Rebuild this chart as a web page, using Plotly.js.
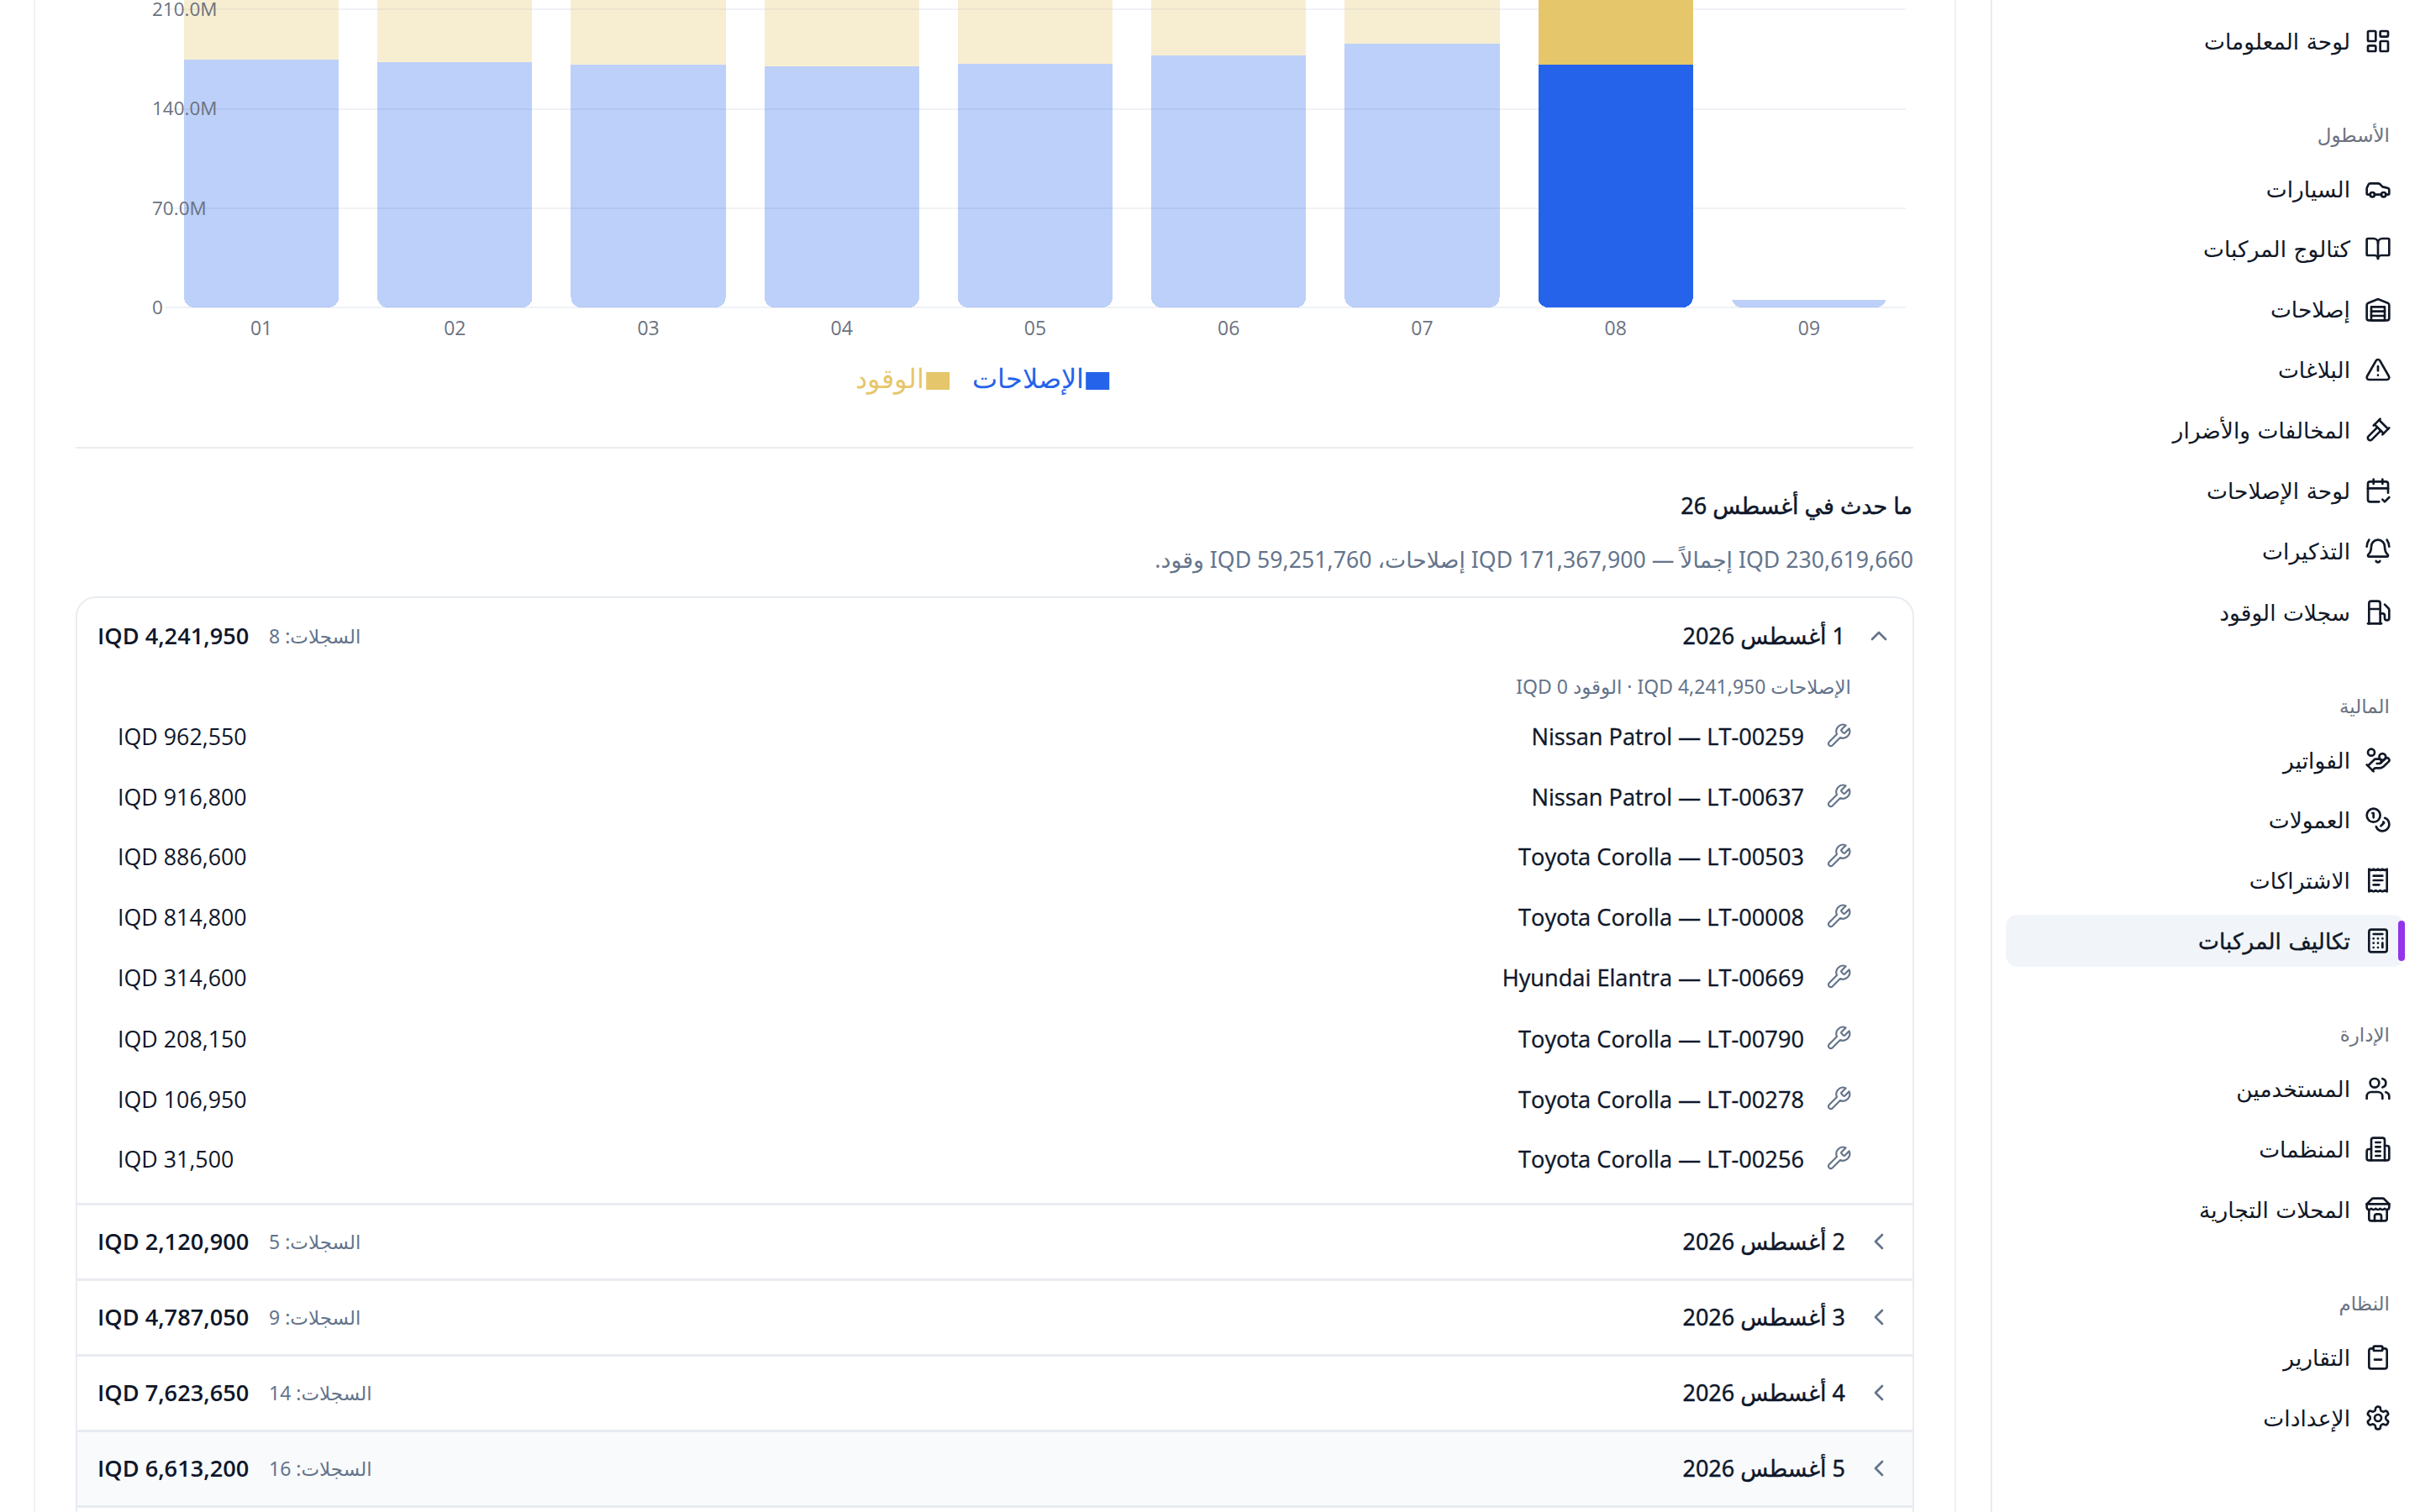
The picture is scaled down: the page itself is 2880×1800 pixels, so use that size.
<!DOCTYPE html>
<html lang="ar">
<head>
<meta charset="utf-8">
<script src="https://cdn.plot.ly/plotly-3.0.1.min.js"></script>
<style>
html,body{margin:0;padding:0;width:2880px;height:1800px;overflow:hidden;background:#fff;font-family:"Open Sans","Noto Sans","DejaVu Sans",sans-serif;color:#0f172a}
#page{position:absolute;left:0;top:0;width:2880px;height:1800px;overflow:hidden}
#chart{position:absolute;left:0;top:-60px;width:2880px;height:640px}
.t{position:absolute;white-space:nowrap;transform:translateY(-50%);line-height:1.2}
.r{position:absolute}
svg.i{position:absolute;fill:none;stroke-linecap:round;stroke-linejoin:round}
</style>
</head>
<body>
<div id="page"><div id="chart"></div></div>
<script>
// ---- chart data (IQD, month by month) ----
const months = ["01","02","03","04","05","06","07","08","09"];
const repairs = [174700000,173000000,171300000,170000000,171500000,177700000,186000000,171367900,5300000];
const fuel = [62000000,60000000,61000000,59000000,60000000,58000000,57000000,59251760,0];
const barOpacity = [0.3,0.3,0.3,0.3,0.3,0.3,0.3,1,0.3];
const yTicks = [0,70000000,140000000,210000000];
const yTickLabels = ["0","70.0M","140.0M","210.0M"];
const seriesNames = ["الإصلاحات","الوقود"];

// ---- page text ----
const heading = "ما حدث في أغسطس 26";
const summary = "IQD 230,619,660 إجمالاً — IQD 171,367,900 إصلاحات، IQD 59,251,760 وقود.";
const dayBreakdown = "الإصلاحات IQD 4,241,950 · الوقود IQD 0";
const entryNames = ["Nissan Patrol — LT-00259","Nissan Patrol — LT-00637","Toyota Corolla — LT-00503","Toyota Corolla — LT-00008","Hyundai Elantra — LT-00669","Toyota Corolla — LT-00790","Toyota Corolla — LT-00278","Toyota Corolla — LT-00256"];
const entryCosts = ["IQD 962,550","IQD 916,800","IQD 886,600","IQD 814,800","IQD 314,600","IQD 208,150","IQD 106,950","IQD 31,500"];
const dayDates = ["1 أغسطس 2026","2 أغسطس 2026","3 أغسطس 2026","4 أغسطس 2026","5 أغسطس 2026"];
const dayTotals = ["IQD 4,241,950","IQD 2,120,900","IQD 4,787,050","IQD 7,623,650","IQD 6,613,200"];
const dayCounts = ["السجلات: 8","السجلات: 5","السجلات: 9","السجلات: 14","السجلات: 16"];
const navItems = [
 ["i","لوحة المعلومات","dash",49],["s","الأسطول","",162],["i","السيارات","car",225],["i","كتالوج المركبات","book",296],
 ["i","إصلاحات","ware",368],["i","البلاغات","warn",440],["i","المخالفات والأضرار","gavel",512],["i","لوحة الإصلاحات","cal",584],
 ["i","التذكيرات","bell",656],["i","سجلات الوقود","fuel",729],["s","المالية","",842],["i","الفواتير","hand",905],
 ["i","العمولات","coins",976],["i","الاشتراكات","rcpt",1048],["a","تكاليف المركبات","calc",1120],["s","الإدارة","",1233],
 ["i","المستخدمين","users",1296],["i","المنظمات","bldg",1368],["i","المحلات التجارية","store",1440],["s","النظام","",1553],
 ["i","التقارير","clip",1616],["i","الإعدادات","gear",1688]];

const P = (d)=>`<path d="${d}"/>`;
const C = (x,y,r)=>`<circle cx="${x}" cy="${y}" r="${r}"/>`;
const R = (x,y,w,h,r)=>`<rect x="${x}" y="${y}" width="${w}" height="${h}" rx="${r}"/>`;
const icons = {
 dash:R(3,3,7,9,1)+R(14,3,7,5,1)+R(14,12,7,9,1)+R(3,16,7,5,1),
 car:P("M19 17h2c.6 0 1-.4 1-1v-3c0-.9-.7-1.7-1.5-1.9C18.7 10.6 16 10 16 10s-1.3-1.4-2.2-2.3c-.5-.4-1.1-.7-1.8-.7H5c-.6 0-1.1.4-1.4.9l-1.4 2.9A3.7 3.7 0 0 0 2 12v4c0 .6.4 1 1 1h2")+C(7,17,2)+P("M9 17h6")+C(17,17,2),
 book:P("M12 7v14")+P("M3 18a1 1 0 0 1-1-1V4a1 1 0 0 1 1-1h5a4 4 0 0 1 4 4 4 4 0 0 1 4-4h5a1 1 0 0 1 1 1v13a1 1 0 0 1-1 1h-6a3 3 0 0 0-3 3 3 3 0 0 0-3-3z"),
 ware:P("M22 8.35V20a2 2 0 0 1-2 2H4a2 2 0 0 1-2-2V8.35A2 2 0 0 1 3.26 6.5l8-3.2a2 2 0 0 1 1.48 0l8 3.2A2 2 0 0 1 22 8.35Z")+P("M6 18h12")+P("M6 14h12")+R(6,10,12,12,0),
 warn:P("m21.73 18-8-14a2 2 0 0 0-3.48 0l-8 14A2 2 0 0 0 4 21h16a2 2 0 0 0 1.73-3")+P("M12 9v4")+P("M12 17h.01"),
 gavel:P("m14.5 12.5-8 8a2.119 2.119 0 1 1-3-3l8-8")+P("m16 16 6-6")+P("m8 8 6-6")+P("m9 7 8 8")+P("m21 11-8-8"),
 cal:P("M8 2v4")+P("M16 2v4")+P("M21 14V6a2 2 0 0 0-2-2H5a2 2 0 0 0-2 2v14a2 2 0 0 0 2 2h8")+P("M3 10h18")+P("m16 20 2 2 4-4"),
 bell:P("M10.268 21a2 2 0 0 0 3.464 0")+P("M22 8c0-2.3-.8-4.3-2-6")+P("M3.262 15.326A1 1 0 0 0 4 17h16a1 1 0 0 0 .74-1.673C19.41 13.956 18 12.499 18 8A6 6 0 0 0 6 8c0 4.499-1.411 5.956-2.738 7.326")+P("M4 2C2.8 3.7 2 5.7 2 8"),
 fuel:P("M3 22h12")+P("M4 9h10")+P("M14 22V4a2 2 0 0 0-2-2H6a2 2 0 0 0-2 2v18")+P("M14 13h2a2 2 0 0 1 2 2v2a2 2 0 0 0 2 2a2 2 0 0 0 2-2V9.83a2 2 0 0 0-.59-1.42L18 5"),
 hand:P("M11 15h2a2 2 0 1 0 0-4h-3c-.6 0-1.1.2-1.4.6L3 17")+P("m7 21 1.6-1.4c.3-.4.8-.6 1.4-.6h4c1.1 0 2.1-.4 2.8-1.2l4.6-4.4a2 2 0 0 0-2.75-2.91l-4.2 3.9")+P("m2 16 6 6")+C(16,9,2.9)+C(6,5,3),
 coins:C(8,8,6)+P("M18.09 10.37A6 6 0 1 1 10.34 18")+P("M7 6h1v4")+P("m16.71 13.88.7.71-2.82 2.82"),
 rcpt:P("M4 2v20l2-1 2 1 2-1 2 1 2-1 2 1 2-1 2 1V2l-2 1-2-1-2 1-2-1-2 1-2-1-2 1Z")+P("M16 8H8")+P("M16 12H8")+P("M13 16H8"),
 calc:R(4,2,16,20,2)+P("M8 6h8")+P("M16 10h.01")+P("M12 10h.01")+P("M8 10h.01")+P("M12 14h.01")+P("M8 14h.01")+P("M12 18h.01")+P("M8 18h.01")+P("M16 14v4"),
 users:P("M16 21v-2a4 4 0 0 0-4-4H6a4 4 0 0 0-4 4v2")+C(9,7,4)+P("M22 21v-2a4 4 0 0 0-3-3.87")+P("M16 3.13a4 4 0 0 1 0 7.75"),
 bldg:P("M6 22V4a2 2 0 0 1 2-2h8a2 2 0 0 1 2 2v18Z")+P("M6 12H4a2 2 0 0 0-2 2v6a2 2 0 0 0 2 2h2")+P("M18 9h2a2 2 0 0 1 2 2v9a2 2 0 0 1-2 2h-2")+P("M10 6h4")+P("M10 10h4")+P("M10 14h4")+P("M10 18h4"),
 store:P("m2 7 4.41-4.41A2 2 0 0 1 7.83 2h8.34a2 2 0 0 1 1.42.59L22 7")+P("M4 12v8a2 2 0 0 0 2 2h12a2 2 0 0 0 2-2v-8")+P("M15 22v-4a2 2 0 0 0-2-2h-2a2 2 0 0 0-2 2v4")+P("M2 7h20")+P("M22 7v3a2 2 0 0 1-2 2a2.7 2.7 0 0 1-1.59-.63.7.7 0 0 0-.82 0A2.7 2.7 0 0 1 16 12a2.7 2.7 0 0 1-1.59-.63.7.7 0 0 0-.82 0A2.7 2.7 0 0 1 12 12a2.7 2.7 0 0 1-1.59-.63.7.7 0 0 0-.82 0A2.7 2.7 0 0 1 8 12a2.7 2.7 0 0 1-1.59-.63.7.7 0 0 0-.82 0A2.7 2.7 0 0 1 4 12a2 2 0 0 1-2-2V7"),
 clip:R(8,2,8,4,1)+P("M16 4h2a2 2 0 0 1 2 2v14a2 2 0 0 1-2 2H6a2 2 0 0 1-2-2V6a2 2 0 0 1 2-2h2")+P("M9 14h6"),
 gear:P("M12.22 2h-.44a2 2 0 0 0-2 2v.18a2 2 0 0 1-1 1.73l-.43.25a2 2 0 0 1-2 0l-.15-.08a2 2 0 0 0-2.73.73l-.22.38a2 2 0 0 0 .73 2.73l.15.1a2 2 0 0 1 1 1.72v.51a2 2 0 0 1-1 1.74l-.15.09a2 2 0 0 0-.73 2.73l.22.38a2 2 0 0 0 2.73.73l.15-.08a2 2 0 0 1 2 0l.43.25a2 2 0 0 1 1 1.73V20a2 2 0 0 0 2 2h.44a2 2 0 0 0 2-2v-.18a2 2 0 0 1 1-1.73l.43-.25a2 2 0 0 1 2 0l.15.08a2 2 0 0 0 2.73-.73l.22-.39a2 2 0 0 0-.73-2.73l-.15-.08a2 2 0 0 1-1-1.74v-.5a2 2 0 0 1 1-1.74l.15-.09a2 2 0 0 0 .73-2.73l-.22-.38a2 2 0 0 0-2.73-.73l-.15.08a2 2 0 0 1-2 0l-.43-.25a2 2 0 0 1-1-1.73V4a2 2 0 0 0-2-2z")+C(12,12,3),
 wrench:P("M14.7 6.3a1 1 0 0 0 0 1.4l1.6 1.6a1 1 0 0 0 1.4 0l3.77-3.77a6 6 0 0 1-7.94 7.94l-6.91 6.91a2.12 2.12 0 0 1-3-3l6.91-6.91a6 6 0 0 1 7.94-7.94l-3.76 3.76z"),
 up:P("m18 15-6-6-6 6"), left:P("m15 18-6-6 6-6")
};

const page = document.getElementById("page");
const ARABIC_BODY = '"Noto Sans","Open Sans","DejaVu Sans",sans-serif';
const NAV_FONT = '"DejaVu Sans","Noto Sans",sans-serif';
function box(x,y,w,h,css){const d=document.createElement("div");d.className="r";d.style.cssText=`left:${x}px;top:${y}px;width:${w}px;height:${h}px;${css||""}`;page.appendChild(d);return d;}
function text(s,opt){const d=document.createElement("div");d.className="t";d.textContent=s;d.dir=opt.dir||"rtl";
 let css=`top:${opt.y}px;font-size:${opt.size}px;color:${opt.color||"#0f172a"};font-weight:${opt.weight||400};font-family:${opt.font||ARABIC_BODY};`;
 if(opt.stroke)css+=`-webkit-text-stroke:${opt.stroke}px ${opt.color||"#0f172a"};`;
 if(opt.right!==undefined)css+=`right:${2880-opt.right}px;`;else css+=`left:${opt.left}px;`;
 d.style.cssText=css;page.appendChild(d);return d;}
function icon(name,cx,cy,size,color,sw){const s=document.createElementNS("http://www.w3.org/2000/svg","svg");s.setAttribute("class","i");s.setAttribute("viewBox","0 0 24 24");
 s.style.cssText=`left:${cx-size/2}px;top:${cy-size/2}px;width:${size}px;height:${size}px;stroke:${color};stroke-width:${sw||2}`;s.innerHTML=icons[name];page.appendChild(s);}

// frames
box(40,-10,2288,1830,"border:solid #eef1f5;border-width:0 2px;box-sizing:border-box");
box(2369,-10,520,1830,"border-left:2px solid #e8ebef;box-sizing:border-box");
box(90,532,2187,2,"background:#e8ecf1");
box(90,710,2188,1120,"border:2px solid #e8ecf1;border-radius:24px;box-sizing:border-box");
box(92,1703,2184,90,"background:#f8fafc");
[1432,1522,1612,1702,1792].forEach(y=>box(92,y,2184,3,"background:#e8ecf1"));

text(heading,{right:2276,y:602,size:27,stroke:0.5});
text(summary,{right:2277,y:666,size:26.7,color:"#64748b"});
text(dayBreakdown,{right:2203,y:818,size:23,color:"#64748b"});

entryNames.forEach((n,i)=>{const y=[876,948,1019,1091,1163,1236,1308,1379][i];
 text(n,{right:2147,y:y+1,size:27.2,weight:500,stroke:0.35,font:'"Open Sans",sans-serif',dir:"ltr"});
 icon("wrench",2188,y,32,"#64748b",1.6);
 text(entryCosts[i],{left:140,y:y+0.5,size:26.8,font:'"Open Sans",sans-serif',dir:"ltr"});
});
dayDates.forEach((d,i)=>{const y=[757,1478,1568,1658,1748][i];
 text(d,{right:2196,y:y,size:27,stroke:0.4});
 icon(i===0?"up":"left",2236,y,32,"#64748b",2);
 text(dayTotals[i],{left:116,y:y-0.5,size:27.2,weight:600,font:'"Open Sans",sans-serif',dir:"ltr"});
 text(dayCounts[i],{left:320,y:y+1,size:23,color:"#64748b"});
});

// sidebar
box(2387,1089,475,62,"background:#f1f5f9;border-radius:14px");
box(2854,1096,8,48,"background:#9333ea;border-radius:4px");
navItems.forEach(([kind,label,ic,y])=>{
 if(kind==="s"){text(label,{right:2844,y:y,size:23,color:"#6b7280",font:NAV_FONT});return;}
 text(label,{right:2797,y:y+0.5,size:26.5,color:"#111827",stroke:kind==="a"?0.4:0,font:NAV_FONT});
 icon(ic,2830,y,32,"#111827",2);
});

// ---- chart ----
// The plot runs a little past the visible band on both sides so that every tick label stays inside it.
const H = 640, OFF = 60, PLOT_H = 480, ZERO_PX = 366, PX_PER_VALUE = 118.2/70000000;
const M = {l:196,r:612.4,t:0,b:H-PLOT_H}, PW = 2880-M.l-M.r;
const bottomRef = 400000000;                 // value axis runs downward from this reference
const spacer = months.map((m,i)=>bottomRef-repairs[i]-fuel[i]);
const rangeBottom = bottomRef+(PLOT_H-OFF-ZERO_PX)/PX_PER_VALUE;
const rangeTop = bottomRef-(ZERO_PX+OFF)/PX_PER_VALUE;
const px = x=>(x-M.l)/PW;
const py = y=>1-(y+OFF)/PLOT_H;
const traces = [
 {type:"bar",x:months,y:spacer,marker:{color:"rgba(0,0,0,0)"},showlegend:false,hoverinfo:"skip"},
 {type:"bar",name:seriesNames[1],x:months,y:fuel,marker:{color:"#e6c66a",opacity:barOpacity}},
 {type:"bar",name:seriesNames[0],x:months.slice(0,8),y:repairs.slice(0,8),marker:{color:"#2563eb",opacity:barOpacity.slice(0,8),cornerradius:12}},
 {type:"bar",name:seriesNames[0],x:months.slice(8),y:repairs.slice(8),marker:{color:"#2563eb",opacity:barOpacity.slice(8),cornerradius:4}}
];
const layout = {
 width:2880,height:H,paper_bgcolor:"rgba(0,0,0,0)",plot_bgcolor:"rgba(0,0,0,0)",
 margin:M,barmode:"stack",bargap:0.2,showlegend:false,
 font:{family:'"Open Sans","Noto Sans",sans-serif',size:24,color:"#6b7280"},
 xaxis:{type:"category",categoryorder:"array",categoryarray:months,range:[-0.5,8.5],anchor:"free",position:1-(ZERO_PX+OFF)/PLOT_H,
  showgrid:false,zeroline:false,showline:false,ticks:"",tickfont:{size:23,color:"#6b7280"},ticklabelstandoff:9},
 yaxis:{range:[rangeBottom,rangeTop],tickmode:"array",tickvals:yTicks.map(v=>bottomRef-v),ticktext:yTickLabels,
  showgrid:true,gridcolor:"#eff2f6",gridwidth:2,zeroline:false,showline:false,ticks:"",
  ticklabelposition:"inside",ticklabelstandoff:-18,tickfont:{size:22.5,color:"#6b7280"}},
 shapes:[
  {type:"rect",xref:"paper",yref:"paper",x0:px(1292),x1:px(1320),y0:py(443),y1:py(464),fillcolor:"#2563eb",line:{width:0}},
  {type:"rect",xref:"paper",yref:"paper",x0:px(1102),x1:px(1130),y0:py(443),y1:py(464),fillcolor:"#e6c66a",line:{width:0}}
 ],
 annotations:[
  {xref:"paper",yref:"paper",x:px(1292),y:py(449.5),xanchor:"right",yanchor:"middle",text:seriesNames[0],showarrow:false,font:{size:31.5,color:"#2563eb"}},
  {xref:"paper",yref:"paper",x:px(1102),y:py(449.5),xanchor:"right",yanchor:"middle",text:seriesNames[1],showarrow:false,font:{size:31.5,color:"#e6c66a"}}
 ]
};
Plotly.newPlot("chart",traces,layout,{displayModeBar:false,responsive:false});
</script>
</body>
</html>
